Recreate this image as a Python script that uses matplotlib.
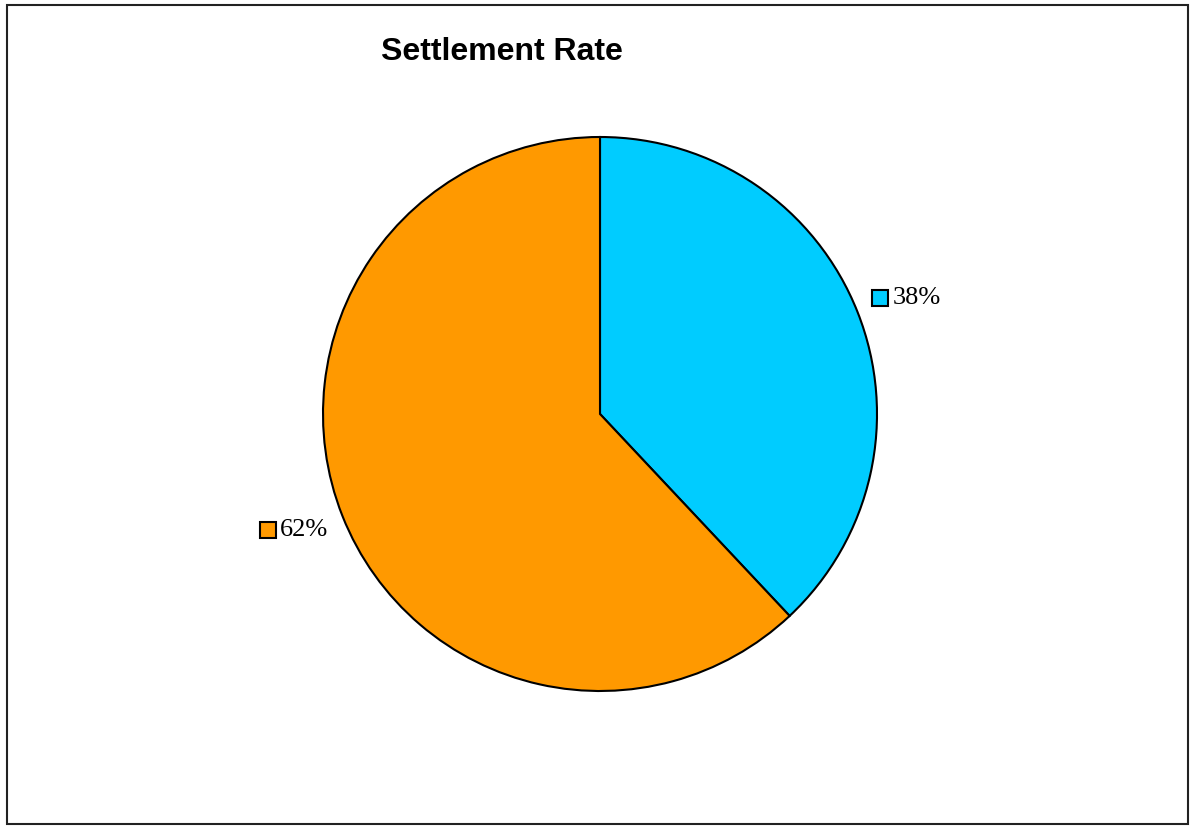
import numpy as np
import matplotlib
matplotlib.use("Agg")
import matplotlib.pyplot as plt
import matplotlib.patches as patches
from matplotlib.transforms import offset_copy

# donnees du graphique
categories = ["Settled", "Not settled"]
valeurs = [38, 62]
couleurs = ["#00CCFF", "#FF9900"]
titre = "Settlement Rate"

W, H = 1192, 833
fig = plt.figure(figsize=(W / 100, H / 100), dpi=100)

# cadre autour de la figure
cadre = patches.Rectangle((7 / W, 9 / H), 1181 / W, 819 / H, transform=fig.transFigure,
                          fill=False, edgecolor="#222222", linewidth=1.5)
fig.patches.append(cadre)

# axes du camembert : centre (600, 414), rayon 277 px
r = 277
ax = fig.add_axes([(600 - r) / W, (H - 414 - r) / H, 2 * r / W, 2 * r / H])
wedges, _ = ax.pie(valeurs, colors=couleurs, startangle=90, counterclock=False,
                   radius=1.0, wedgeprops=dict(edgecolor="black", linewidth=1.5))
ax.set_xlim(-1, 1)
ax.set_ylim(-1, 1)
ax.set_aspect("equal")
ax.axis("off")

# etiquettes avec petit carre de couleur
for w, v, c in zip(wedges, valeurs, couleurs):
    ang = np.deg2rad((w.theta1 + w.theta2) / 2)
    px, py = 1.19 * np.cos(ang), 1.14 * np.sin(ang)
    tr_carre = offset_copy(ax.transData, fig=fig, x=-26 * 0.72, y=0, units="points")
    ax.plot([px], [py], marker="s", markersize=11.5, markerfacecolor=c,
            markeredgecolor="black", markeredgewidth=1.5, transform=tr_carre,
            clip_on=False)
    tr_txt = offset_copy(ax.transData, fig=fig, x=-14 * 0.72, y=0, units="points")
    ax.text(px, py, "%d%%" % v, transform=tr_txt, ha="left", va="center",
            fontsize=19, family="Liberation Serif")

fig.text(502 / W, 1 - 52 / H, titre, ha="center", va="center", fontsize=23,
         fontweight="bold", family="Liberation Sans")

fig.savefig("out.png", dpi=100)
